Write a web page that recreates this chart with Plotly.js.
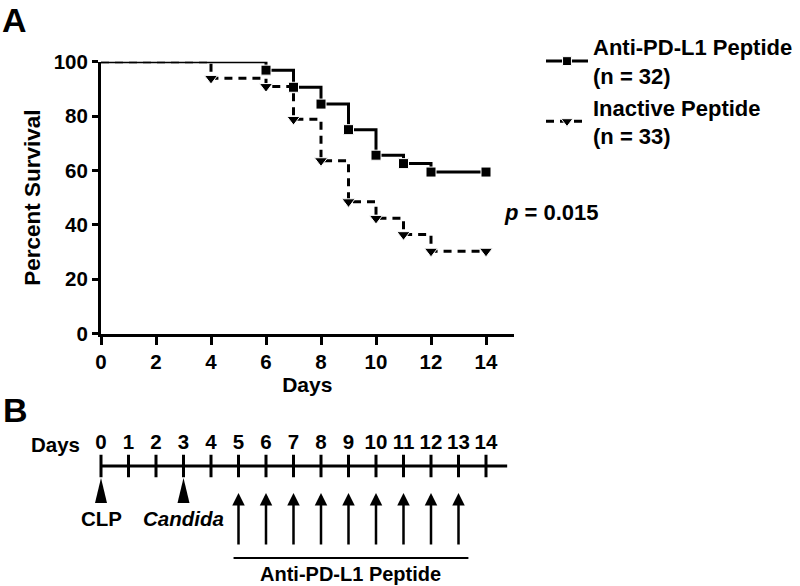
<!DOCTYPE html>
<html><head><meta charset="utf-8">
<script src="https://cdn.plot.ly/plotly-3.0.1.min.js"></script>
<style>html,body{margin:0;padding:0;background:#fff}#chart{width:800px;height:586px}</style>
</head><body><div id="chart"></div>
<script>
// ---------- Panel A data: Kaplan-Meier survival ----------
const antiDays = [0, 6, 7, 8, 9, 10, 11, 12, 14];
const antiSurvival = [100, 96.9, 90.6, 84.4, 75.0, 65.6, 62.5, 59.4, 59.4];
const antiName = 'Anti-PD-L1 Peptide<br>(n = 32)';

const inactDays = [0, 4, 6, 7, 8, 9, 10, 11, 12, 14];
const inactSurvival = [100, 93.9, 90.9, 78.8, 63.6, 48.5, 42.4, 36.4, 30.3, 30.3];
const inactName = 'Inactive Peptide<br>(n = 33)';

const xTickVals = [0, 2, 4, 6, 8, 10, 12, 14];
const yTickVals = [0, 20, 40, 60, 80, 100];
const pValueText = '<i>p</i> = 0.015';

// ---------- Panel B data: timeline ----------
const timelineDays = [0, 1, 2, 3, 4, 5, 6, 7, 8, 9, 10, 11, 12, 13, 14];
const timelineLabels = ['0','1','2','3','4','5','6','7','8','9','10','11','12','13','14'];
const eventDays = [0, 3];
const eventLabels = ['CLP', '<i>Candida</i>'];
const treatmentDays = [5, 6, 7, 8, 9, 10, 11, 12, 13];
const treatmentLabel = 'Anti-PD-L1 Peptide';

// ---------- layout helpers ----------
const FONT = 'Liberation Sans, Arial, Helvetica, sans-serif';
const W = 800, H = 586;
const px = v => v / W;
const py = v => 1 - v / H;
const unitPx = 27.5;
const xDomain = [px(101), px(101 + 15 * unitPx)];
const xDomain2 = [px(101 - unitPx), px(101 + 15 * unitPx)];
const bold = (s, c) => ({family: FONT, size: s, color: c || '#000', weight: 'bold'});

// Panel B vertical positions (y2 axis is set up in page pixels)
const B = {labelRow: 444, line: 466, triTop: 478, triBottom: 503, eventText: 518,
           arrowTip: 493, arrowTail: 546, bracket: 558, bracketText: 574};

const sizes = (n, s) => Array.from({length: n}, (_, i) => i === 0 ? 0 : s);

const traces = [
  {x: antiDays, y: antiSurvival, name: antiName, legendgroup: 'a', type: 'scatter',
   mode: 'lines+markers', line: {shape: 'hv', color: '#000', width: 3},
   marker: {symbol: 'square', size: sizes(antiDays.length, 10), color: '#000', opacity: 1},
   hoverinfo: 'x+y', xaxis: 'x', yaxis: 'y'},
  {x: inactDays, y: inactSurvival, name: inactName, legendgroup: 'b', type: 'scatter',
   mode: 'lines+markers', line: {shape: 'hv', color: '#000', width: 3, dash: '8px,6px'},
   marker: {symbol: 'triangle-down', size: sizes(inactDays.length, 11.5), color: '#000', opacity: 1},
   hoverinfo: 'x+y', xaxis: 'x', yaxis: 'y'},
  // timeline ticks
  {x: timelineDays, y: timelineDays.map(() => B.line), type: 'scatter', mode: 'markers',
   marker: {symbol: 'line-ns', size: 16, line: {width: 3, color: '#000'}},
   showlegend: false, hoverinfo: 'skip', xaxis: 'x2', yaxis: 'y2'},
  // timeline labels
  {x: timelineDays, y: timelineDays.map(() => B.labelRow), text: timelineLabels,
   type: 'scatter', mode: 'text', textfont: bold(20.5), showlegend: false,
   hoverinfo: 'skip', xaxis: 'x2', yaxis: 'y2', cliponaxis: false}
];

const shapes = [
  {type: 'line', xref: 'x2', yref: 'y2', x0: timelineDays[0], x1: timelineDays[timelineDays.length - 1] + 0.77,
   y0: B.line, y1: B.line, line: {color: '#000', width: 3}},
  {type: 'line', xref: 'x2', yref: 'y2', x0: treatmentDays[0] - 0.18,
   x1: treatmentDays[treatmentDays.length - 1] + 0.36,
   y0: B.bracket, y1: B.bracket, line: {color: '#000', width: 2}}
];
eventDays.forEach(d => shapes.push({
  type: 'path', xref: 'x2', yref: 'y2', xsizemode: 'pixel', xanchor: d,
  path: `M-6,${B.triBottom}L6,${B.triBottom}L0,${B.triTop}Z`,
  fillcolor: '#000', line: {width: 0}
}));

const annotations = [
  {text: 'A', xref: 'paper', yref: 'paper', x: 0, y: py(-1), xanchor: 'left', yanchor: 'top',
   showarrow: false, font: bold(34)},
  {text: 'B', xref: 'paper', yref: 'paper', x: px(1), y: py(389), xanchor: 'left', yanchor: 'top',
   showarrow: false, font: bold(34)},
  {text: pValueText, xref: 'paper', yref: 'paper', x: px(502), y: py(212), xanchor: 'left',
   yanchor: 'middle', showarrow: false, font: bold(22)},
  {text: 'Days', xref: 'paper', yref: 'y2', x: px(55), y: B.labelRow, xanchor: 'center',
   yanchor: 'middle', showarrow: false, font: bold(20.5)},
  {text: treatmentLabel, xref: 'x2', yref: 'y2',
   x: (treatmentDays[0] + treatmentDays[treatmentDays.length - 1]) / 2 + 0.09, y: B.bracketText,
   xanchor: 'center', yanchor: 'middle', showarrow: false, font: bold(20)}
];
eventDays.forEach((d, i) => annotations.push({
  text: eventLabels[i], xref: 'x2', yref: 'y2', x: d, y: B.eventText, xanchor: 'center',
  yanchor: 'middle', showarrow: false, font: bold(20.5)
}));
treatmentDays.forEach(d => annotations.push({
  text: '', xref: 'x2', yref: 'y2', x: d, y: B.arrowTip, axref: 'x2', ayref: 'y2',
  ax: d, ay: B.arrowTail, showarrow: true, arrowhead: 2, arrowsize: 1, arrowwidth: 2.5,
  arrowcolor: '#000'
}));

const layout = {
  width: W, height: H, margin: {l: 0, r: 0, t: 0, b: 0},
  paper_bgcolor: '#fff', plot_bgcolor: '#fff',
  font: bold(20),
  showlegend: true,
  legend: {x: px(541), y: py(26), xanchor: 'left', yanchor: 'top', font: bold(22),
           tracegroupgap: 8, itemwidth: 42, bgcolor: 'rgba(0,0,0,0)', traceorder: 'normal'},
  xaxis: {domain: xDomain, range: [0, 15], anchor: 'y', tickvals: xTickVals,
          showline: true, linewidth: 3, linecolor: '#000', ticks: 'outside', ticklen: 8,
          tickwidth: 3, tickcolor: '#000', showgrid: false, zeroline: false,
          tickfont: bold(20.5), title: {text: 'Days', font: bold(21), standoff: 4}},
  yaxis: {domain: [py(333.5), py(61.7)], range: [0, 100], anchor: 'x', tickvals: yTickVals,
          showline: true, linewidth: 3, linecolor: '#000', ticks: 'outside', ticklen: 6,
          tickwidth: 3, tickcolor: '#000', showgrid: false, zeroline: false,
          tickfont: bold(20.5), title: {text: 'Percent Survival', font: bold(22.5), standoff: 7}},
  xaxis2: {domain: xDomain2, range: [-1, 15], anchor: 'y2', visible: false},
  yaxis2: {domain: [0, py(430)], range: [586, 430], anchor: 'x2', visible: false},
  shapes: shapes,
  annotations: annotations
};

Plotly.newPlot('chart', traces, layout, {displayModeBar: false, staticPlot: true});
</script>
</body></html>
